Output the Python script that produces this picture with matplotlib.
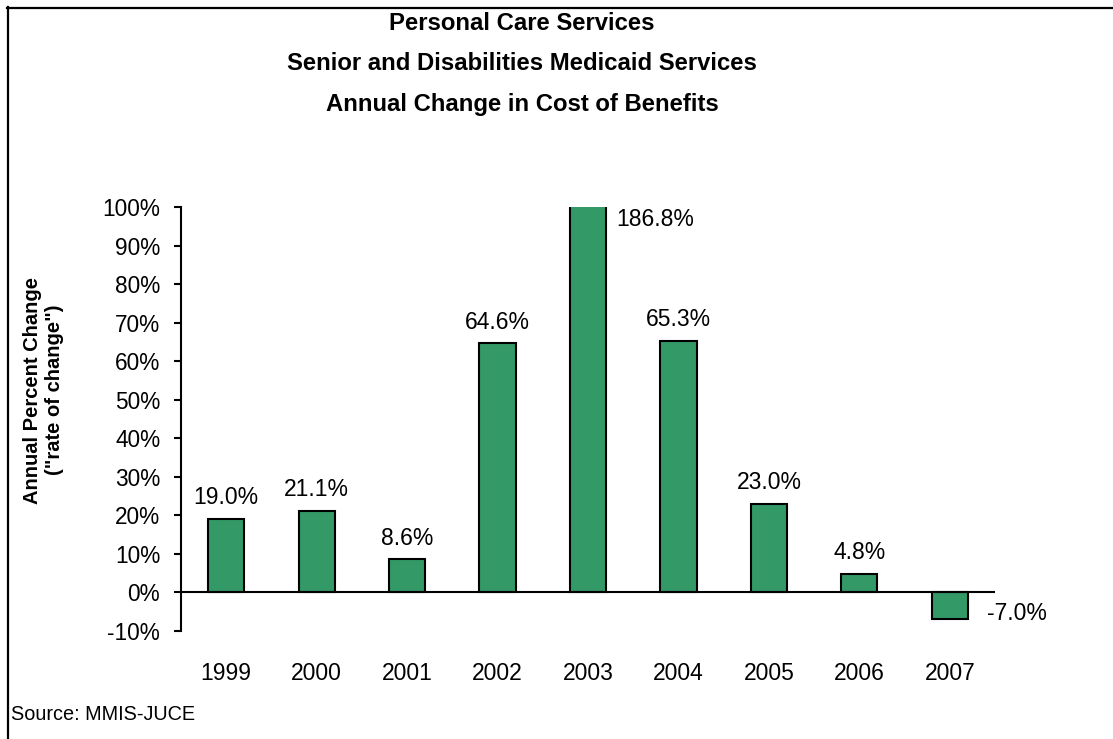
import matplotlib
matplotlib.use("Agg")
import matplotlib.pyplot as plt
from matplotlib.lines import Line2D

years = ["1999", "2000", "2001", "2002", "2003", "2004", "2005", "2006", "2007"]
pct_change = [19.0, 21.1, 8.6, 64.6, 186.8, 65.3, 23.0, 4.8, -7.0]
y_ticks = [-10, 0, 10, 20, 30, 40, 50, 60, 70, 80, 90, 100]
title_lines = ["Personal Care Services",
               "Senior and Disabilities Medicaid Services",
               "Annual Change in Cost of Benefits"]

plt.rcParams['font.family'] = ['Liberation Sans', 'DejaVu Sans']

W, H = 1113, 739
fig = plt.figure(figsize=(W / 100, H / 100), dpi=100)

left, right, top, bottom = 181, 995, 207, 631
ax = fig.add_axes([left / W, 1 - bottom / H, (right - left) / W, (bottom - top) / H])

x = list(range(len(years)))
bars = ax.bar(x, pct_change, width=0.4, color='#339966', edgecolor='black', linewidth=1.5, zorder=2)
ax.set_xlim(-0.5, len(years) - 0.5)
ax.set_ylim(-10, 100)
ax.axhline(0, color='black', linewidth=1.5, zorder=3)

for s in ['top', 'right', 'bottom']:
    ax.spines[s].set_visible(False)
ax.spines['left'].set_linewidth(1.5)
ax.set_yticks(y_ticks)
ax.set_yticklabels([f"{v}%" for v in y_ticks], fontsize=16.3)
ax.tick_params(axis='y', direction='out', length=5, width=1.5, pad=10)
ax.set_xticks(x)
ax.set_xticklabels(years, fontsize=16.5)
ax.tick_params(axis='x', length=0, pad=22)

lab_fs = 16.5
for i, v in enumerate(pct_change):
    label = f"{v:.1f}%"
    if v > 100:
        ax.annotate(label, xy=(i + 0.2, 100), xytext=(7, -1), textcoords='offset points',
                    ha='left', va='top', fontsize=lab_fs, clip_on=False)
    elif v < 0:
        ax.annotate(label, xy=(i + 0.2, v), xytext=(14, 4), textcoords='offset points',
                    ha='left', va='center', fontsize=lab_fs, clip_on=False)
    else:
        ax.annotate(label, xy=(i, v), xytext=(0, 7), textcoords='offset points',
                    ha='center', va='bottom', fontsize=lab_fs)

ty = [23, 64, 105]
for t, yy in zip(title_lines, ty):
    fig.text(522 / W, 1 - yy / H, t, ha='center', va='center', fontsize=17.2, fontweight='bold')

fig.text(33 / W, 1 - 390 / H, "Annual Percent Change", rotation=90, ha='center', va='center',
         fontsize=14.5, fontweight='bold')
fig.text(55 / W, 1 - 390 / H, "(\"rate of change\")", rotation=90, ha='center', va='center',
         fontsize=14.5, fontweight='bold')

fig.text(11 / W, 1 - 714 / H, "Source: MMIS-JUCE", ha='left', va='center', fontsize=14.3)

# frame (left and top edges)
fig.add_artist(Line2D([7.5 / W, 7.5 / W], [0, 1 - 7 / H], color='black', linewidth=1.6,
                      transform=fig.transFigure))
fig.add_artist(Line2D([7 / W, 1], [1 - 7.5 / H, 1 - 7.5 / H], color='black', linewidth=1.6,
                      transform=fig.transFigure))

fig.savefig("out.png", dpi=100)
